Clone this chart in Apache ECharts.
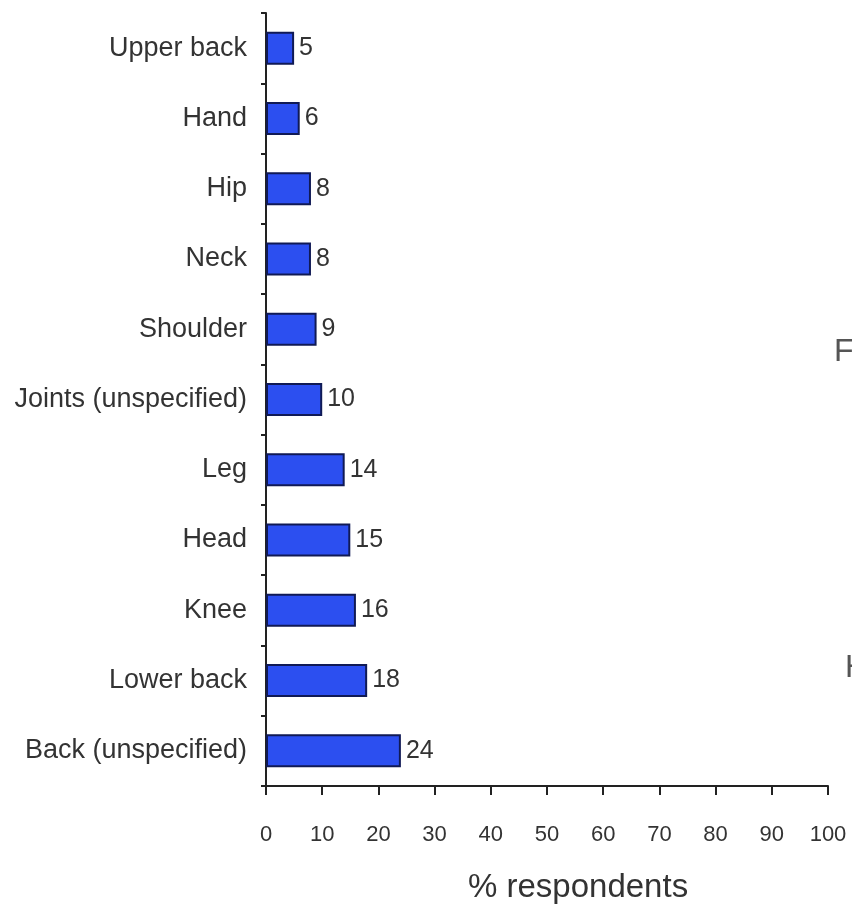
<!DOCTYPE html>
<html>
<head>
<meta charset="utf-8">
<script src="https://cdn.jsdelivr.net/npm/echarts@6/dist/echarts.min.js"></script>
<style>
  html, body { margin: 0; padding: 0; background: #fff; }
  #chart { width: 852px; height: 920px; }
</style>
</head>
<body>
<div id="chart"></div>
<script>
// top to bottom
var sites = ['Upper back', 'Hand', 'Hip', 'Neck', 'Shoulder', 'Joints (unspecified)',
    'Leg', 'Head', 'Knee', 'Lower back', 'Back (unspecified)'];
var percents = [5, 6, 8, 8, 9, 10, 14, 15, 16, 18, 24];
var xTicks = [0, 10, 20, 30, 40, 50, 60, 70, 80, 90, 100];

var font = '"Liberation Sans", Arial, sans-serif';
var chart = echarts.init(document.getElementById('chart'));

chart.setOption({
    animation: false,
    backgroundColor: '#fff',
    grid: { left: 266, right: 24, top: 13, bottom: 134, outerBoundsMode: 'none' },
    xAxis: {
        type: 'value',
        min: xTicks[0],
        max: xTicks[xTicks.length - 1],
        interval: 10,
        splitLine: { show: false },
        axisLine: { show: true, lineStyle: { color: '#222', width: 2 } },
        axisTick: { show: true, length: 9, lineStyle: { color: '#222', width: 2 } },
        axisLabel: { color: '#333', fontSize: 22, fontFamily: font, margin: 38 }
    },
    yAxis: {
        type: 'category',
        data: sites,
        inverse: true,
        axisLine: { show: true, lineStyle: { color: '#222', width: 2 } },
        axisTick: { show: true, length: 5, lineStyle: { color: '#222', width: 2 } },
        axisLabel: { color: '#333', fontSize: 27, fontFamily: font, margin: 19 }
    },
    series: [{
        type: 'bar',
        data: percents,
        barWidth: 33,
        itemStyle: { color: '#2c4ff0', borderColor: '#101a55', borderWidth: 2 },
        label: {
            show: true, position: 'right', distance: 5,
            color: '#333', fontSize: 25, fontFamily: font
        }
    }],
    graphic: [
        { type: 'text', left: 468, top: 871,
          style: { text: '% respondents', fill: '#333', fontSize: 33, fontFamily: font } },
        { type: 'text', left: 834, top: 336,
          style: { text: 'Fi', fill: '#555', fontSize: 32, fontFamily: font } },
        { type: 'text', left: 845, top: 652,
          style: { text: 'H', fill: '#555', fontSize: 32, fontFamily: font } }
    ]
});
</script>
</body>
</html>
